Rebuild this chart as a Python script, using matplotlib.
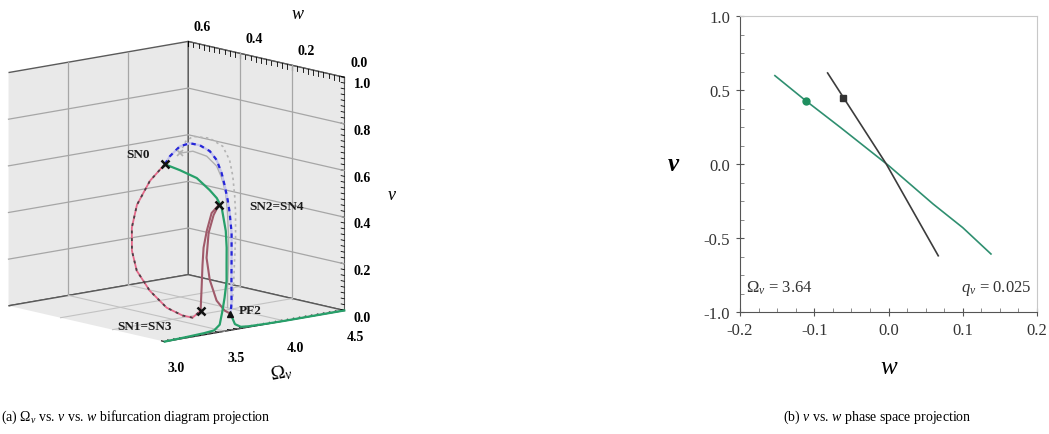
import numpy as np
import matplotlib
matplotlib.use("Agg")
import matplotlib.pyplot as plt
from matplotlib.ticker import MultipleLocator, FormatStrFormatter

plt.rcParams['font.family'] = ['Liberation Serif', 'DejaVu Serif']
plt.rcParams['mathtext.fontset'] = 'custom'
plt.rcParams['mathtext.rm'] = 'Liberation Serif'
plt.rcParams['mathtext.it'] = 'Liberation Serif:italic'
plt.rcParams['mathtext.bf'] = 'Liberation Serif:bold'

# ---------------- (a) bifurcation branches: Omega_v, v, w ----------------
stable_om = [3.000, 3.183, 3.333, 3.420, 3.477, 3.535, 3.583, 3.641, 3.680,
             3.722, 3.756, 3.781, 3.766, 3.730, 3.657, 3.542, 3.438]
stable_v = [0.000, 0.003, 0.006, 0.010, 0.028, 0.079, 0.127, 0.189, 0.250,
            0.314, 0.378, 0.468, 0.508, 0.543, 0.597, 0.638, 0.670]
stable_w = [0.000, 0.001, 0.002, 0.003, 0.008, 0.024, 0.038, 0.057, 0.075,
            0.094, 0.113, 0.140, 0.152, 0.163, 0.179, 0.191, 0.201]

right_om = [3.591, 3.600, 3.640, 3.700, 3.850, 4.000, 4.250, 4.500]
right_v = [0.062, 0.020, 0.006, 0.003, 0.001, 0.000, 0.000, 0.000]
right_w = [0.019, 0.006, 0.002, 0.001, 0.000, 0.000, 0.000, 0.000]

unst_om = [3.438, 3.498, 3.601, 3.688, 3.762, 3.827, 3.860, 3.867, 3.859,
           3.848, 3.832, 3.798, 3.737, 3.675, 3.626, 3.591]
unst_v = [0.670, 0.697, 0.728, 0.733, 0.719, 0.690, 0.652, 0.599, 0.548,
          0.494, 0.444, 0.367, 0.273, 0.179, 0.103, 0.062]
unst_w = [0.201, 0.209, 0.218, 0.220, 0.216, 0.207, 0.196, 0.180, 0.164,
          0.148, 0.133, 0.110, 0.082, 0.054, 0.031, 0.019]

ref_dot_om = [3.584, 3.661, 3.729, 3.858, 3.941, 3.962, 3.947, 3.913, 3.879,
              3.818, 3.748, 3.679, 3.609]
ref_dot_v = [0.702, 0.743, 0.757, 0.739, 0.700, 0.643, 0.581, 0.504, 0.440,
             0.345, 0.252, 0.159, 0.077]
ref_dot_w = [0.211, 0.223, 0.227, 0.222, 0.210, 0.193, 0.174, 0.151, 0.132,
             0.104, 0.076, 0.048, 0.023]

ref_sol_om = [3.584, 3.692, 3.790, 3.845, 3.855, 3.849, 3.816, 3.762, 3.701,
              3.631, 3.582]
ref_sol_v = [0.702, 0.701, 0.673, 0.629, 0.581, 0.521, 0.445, 0.350, 0.256,
             0.162, 0.087]
ref_sol_w = [0.211, 0.210, 0.202, 0.189, 0.174, 0.156, 0.134, 0.105, 0.077,
             0.049, 0.026]

br1_om = [3.765, 3.690, 3.606, 3.540, 3.490, 3.426, 3.361]
br1_v = [0.481, 0.455, 0.391, 0.329, 0.265, 0.179, 0.093]
br1_w = [0.144, 0.137, 0.117, 0.099, 0.080, 0.054, 0.028]

br2_om = [3.765, 3.700, 3.617, 3.539, 3.509, 3.512, 3.551, 3.591]
br2_v = [0.481, 0.446, 0.382, 0.289, 0.204, 0.121, 0.078, 0.062]
br2_w = [0.144, 0.134, 0.115, 0.087, 0.061, 0.036, 0.023, 0.019]

loop_om = [3.438, 3.370, 3.262, 3.180, 3.094, 3.056, 3.062, 3.123, 3.215,
           3.281, 3.361]
loop_v = [0.670, 0.598, 0.505, 0.419, 0.338, 0.265, 0.191, 0.122, 0.085,
          0.072, 0.093]
loop_w = [0.201, 0.227, 0.227, 0.209, 0.169, 0.133, 0.086, 0.049, 0.030,
          0.022, 0.028]

sn_labels = ['SN0', 'SN2=SN4', 'SN1=SN3']
sn_om = [3.438, 3.765, 3.361]
sn_v = [0.670, 0.481, 0.093]
sn_w = [0.201, 0.144, 0.028]
pf_om, pf_v, pf_w = 3.591, 0.062, 0.019
ref_sn_om, ref_sn_v, ref_sn_w = 3.584, 0.702, 0.211

om_lim = (3.0, 4.5)
w_lim = (0.0, 0.6)
v_lim = (0.0, 1.0)
om_ticks = [3.0, 3.5, 4.0, 4.5]
w_ticks = [0.0, 0.2, 0.4, 0.6]
v_ticks = [0.0, 0.2, 0.4, 0.6, 0.8, 1.0]

# ---------------- (b) phase-space projection at Omega_v = 3.64 ----------------
green_w = [-0.153, -0.112, -0.065, 0.000, 0.060, 0.100, 0.138]
green_v = [0.597, 0.430, 0.248, -0.010, -0.270, -0.430, -0.608]
dark_w = [-0.082, -0.003, 0.067]
dark_v = [0.615, 0.000, -0.620]
green_pt = (-0.1115, 0.426)
dark_pt = (-0.0617, 0.444)

GREEN = '#27a06a'
GRID = '#a6a6a6'
fig = plt.figure(figsize=(10.49, 4.35), dpi=100)

# ---------------- panel (a) ----------------
ax = fig.add_axes([-0.047, 0.085, 0.42, 0.92], projection='3d', computed_zorder=False)
ax.set_xlim(*om_lim)
ax.set_ylim(*w_lim)
ax.set_zlim(*v_lim)
ax.view_init(elev=11.5, azim=-131)
ax.set_proj_type('ortho')
ax.set_box_aspect((1, 1, 1.0), zoom=1.0)
ax.grid(False)

for axis in (ax.xaxis, ax.yaxis, ax.zaxis):
    axis.set_pane_color((0.915, 0.915, 0.915, 1.0))
    axis.pane.set_edgecolor('#5a5a5a')
    axis.pane.set_linewidth(1.0)
    axis.line.set_color('#5a5a5a')
    axis._axinfo['tick']['inward_factor'] = 0.0
    axis._axinfo['tick']['outward_factor'] = 0.25
    axis._axinfo['tick']['color'] = '#444444'
    axis._axinfo['tick']['linewidth'] = {True: 0.8, False: 0.6}

ax.set_xticks(om_ticks)
ax.set_yticks(w_ticks)
ax.set_zticks(v_ticks)
ax.xaxis.set_minor_locator(MultipleLocator(0.05))
ax.yaxis.set_minor_locator(MultipleLocator(0.02))
ax.zaxis.set_minor_locator(MultipleLocator(0.025))
for axis in (ax.xaxis, ax.yaxis, ax.zaxis):
    axis.set_major_formatter(FormatStrFormatter('%.1f'))
ax.yaxis.set_ticks_position('upper')
ax.yaxis.set_label_position('upper')
ax.zaxis.set_ticks_position('lower')
ax.zaxis.set_label_position('lower')
ax.tick_params(axis='both', labelsize=10, pad=0)
ax.tick_params(axis='x', pad=3)
ax.tick_params(axis='y', pad=4)
for axis in (ax.xaxis, ax.yaxis, ax.zaxis):
    for t in axis.get_ticklabels():
        t.set_fontweight('bold')
ax.set_xlabel(r'$\Omega_v$', fontsize=14, labelpad=5)
ax.set_ylabel('w', fontsize=13, fontstyle='italic', labelpad=5)
ax.set_zlabel('v', fontsize=13, fontstyle='italic', labelpad=0)

# grid lines on the three back panes at the major ticks
for om in om_ticks[1:-1]:
    ax.plot([om, om], [w_lim[1], w_lim[1]], list(v_lim), color=GRID, lw=0.9, zorder=1)
    ax.plot([om, om], list(w_lim), [v_lim[0], v_lim[0]], color='#c2c2c2', lw=0.8, zorder=1)
for w in w_ticks[1:-1]:
    ax.plot([om_lim[1], om_lim[1]], [w, w], list(v_lim), color=GRID, lw=0.9, zorder=1)
    ax.plot(list(om_lim), [w, w], [v_lim[0], v_lim[0]], color='#c2c2c2', lw=0.8, zorder=1)
for v in v_ticks[1:-1]:
    ax.plot(list(om_lim), [w_lim[1], w_lim[1]], [v, v], color=GRID, lw=0.9, zorder=1)
    ax.plot([om_lim[1], om_lim[1]], list(w_lim), [v, v], color=GRID, lw=0.9, zorder=1)

ax.plot(ref_dot_om, ref_dot_w, ref_dot_v, color='#b4b4b4', lw=1.2, ls=(0, (1.5, 2.0)), zorder=2)
ax.plot(ref_sol_om, ref_sol_w, ref_sol_v, color='#b0b0b0', lw=1.0, zorder=2)
ax.plot(loop_om, loop_w, loop_v, color='#e46a8a', lw=1.3, zorder=3)
ax.plot(loop_om, loop_w, loop_v, color='#4c4046', lw=1.3, ls=(0, (1.6, 2.6)), zorder=3)
ax.plot(unst_om, unst_w, unst_v, color='#c4c4ec', lw=1.6, zorder=3)
ax.plot(unst_om, unst_w, unst_v, color='#2626d8', lw=1.6, ls=(0, (2.0, 2.0)), zorder=3)
ax.plot(br1_om, br1_w, br1_v, color='#a05a6a', lw=1.5, zorder=4)
ax.plot(br2_om, br2_w, br2_v, color='#a05a6a', lw=1.5, zorder=4)
ax.plot(stable_om, stable_w, stable_v, color=GREEN, lw=1.6, zorder=5)
ax.plot(right_om, right_w, right_v, color=GREEN, lw=1.6, zorder=5)
ax.plot([ref_sn_om], [ref_sn_w], [ref_sn_v], 'x', color='#b0b0b0', ms=5, mew=1.2, zorder=6)
ax.plot(sn_om, sn_w, sn_v, 'x', color='#111111', ms=6, mew=1.8, zorder=7)
ax.plot([pf_om], [pf_w], [pf_v], '^', color='#111111', ms=5, zorder=7)

lab_kw = dict(fontsize=9.5, fontweight='bold', color='#1a1a1a')
fig.text(138 / 1049, 1 - 155 / 435, sn_labels[0], ha='center', va='center', **lab_kw)
fig.text(277 / 1049, 1 - 207 / 435, sn_labels[1], ha='center', va='center', **lab_kw)
fig.text(145 / 1049, 1 - 327 / 435, sn_labels[2], ha='center', va='center', **lab_kw)
fig.text(250 / 1049, 1 - 311 / 435, 'PF2', ha='center', va='center', **lab_kw)

# ---------------- panel (b) ----------------
bx = fig.add_axes([740 / 1049, 1 - 313 / 435, 297 / 1049, 296 / 435])
bx.plot(green_w, green_v, color='#2f8f70', lw=1.2)
bx.plot(dark_w, dark_v, color='#3c3c3c', lw=1.2)
bx.plot(*green_pt, 'o', color='#1f8f5f', ms=5)
bx.plot(*dark_pt, 's', color='#333333', ms=4)
bx.set_xlim(-0.2, 0.2)
bx.set_ylim(-1.0, 1.0)
bx.xaxis.set_major_locator(MultipleLocator(0.1))
bx.xaxis.set_minor_locator(MultipleLocator(0.025))
bx.yaxis.set_major_locator(MultipleLocator(0.5))
bx.yaxis.set_minor_locator(MultipleLocator(0.125))
bx.xaxis.set_major_formatter(FormatStrFormatter('%.1f'))
bx.yaxis.set_major_formatter(FormatStrFormatter('%.1f'))
bx.tick_params(which='major', direction='inout', length=6, width=0.8, colors='#555555',
               labelsize=12, labelcolor='#333333', pad=4)
bx.tick_params(which='minor', direction='in', length=3, width=0.6, colors='#777777')
for side in ('top', 'right'):
    bx.spines[side].set_color('#c8c8c8')
for side in ('left', 'bottom'):
    bx.spines[side].set_color('#555555')
bx.set_xlabel('w', fontsize=18, fontstyle='italic', labelpad=13)
bx.set_ylabel('v', fontsize=18, fontstyle='italic', fontweight='bold', rotation=0,
              labelpad=22, va='center')
bx.text(0.02, 0.07, r'$\Omega_v$ = 3.64', transform=bx.transAxes, fontsize=12, color='#333333')
bx.text(0.98, 0.07, r'$q_v$ = 0.025', transform=bx.transAxes, fontsize=12, color='#333333', ha='right')

# ---------------- captions ----------------
fig.text(0.001, 1 - 417 / 435, r'(a) $\Omega_v$ vs. $v$ vs. $w$ bifurcation diagram projection',
         fontsize=10, ha='left', va='center')
fig.text(877 / 1049, 1 - 417 / 435, r'(b) $v$ vs. $w$ phase space projection',
         fontsize=10, ha='center', va='center')

fig.savefig('out.png', dpi=100)
